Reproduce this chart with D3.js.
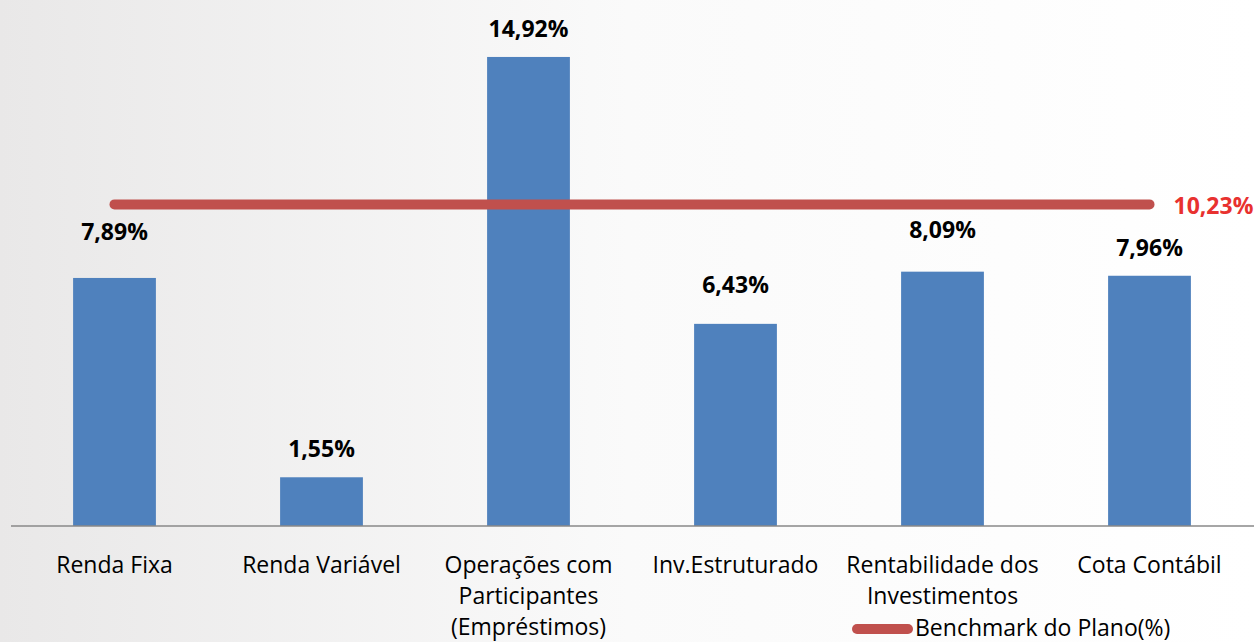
<!DOCTYPE html>
<html>
<head>
<meta charset="utf-8">
<script src="https://cdn.jsdelivr.net/npm/d3@7"></script>
<style>
	html, body { margin: 0; padding: 0; background: #fff; }
	svg { display: block; font-family: "Open Sans", "Noto Sans", sans-serif; }
</style>
</head>
<body>
<div id="chart"></div>
<script>
var width = 1254;
var height = 642;

var categories = [
	"Renda Fixa",
	"Renda Variável",
	"Operações com\nParticipantes\n(Empréstimos)",
	"Inv.Estruturado",
	"Rentabilidade dos\nInvestimentos",
	"Cota Contábil"
];
var returns = [7.89, 1.55, 14.92, 6.43, 8.09, 7.96];
var benchmark = [10.23, 10.23, 10.23, 10.23, 10.23, 10.23];
var benchmarkName = "Benchmark do Plano(%)";

// some labels were dragged up in the original to clear the red line
var labelNudge = { "Renda Fixa": -18, "Inv.Estruturado": -11, "Rentabilidade dos\nInvestimentos": -14 };

var asPercent = function(v) {
	return v.toFixed(2).replace(".", ",") + "%";
};

var svg = d3.select("#chart").append("svg")
	.attr("width", width)
	.attr("height", height);

var defs = svg.append("defs");
var grad = defs.append("linearGradient")
	.attr("id", "bg")
	.attr("x1", "0%").attr("x2", "100%")
	.attr("y1", "0%").attr("y2", "0%");
grad.append("stop").attr("offset", "0%").attr("stop-color", "#e9e8e8");
grad.append("stop").attr("offset", "50%").attr("stop-color", "#fafafa");
grad.append("stop").attr("offset", "100%").attr("stop-color", "#ffffff");

svg.append("rect")
	.attr("width", width)
	.attr("height", height)
	.attr("fill", "url(#bg)");

var x = d3.scaleBand()
	.domain(categories)
	.range([11, 1253])
	.paddingInner(0.6)
	.paddingOuter(0.3);

var y = d3.scaleLinear()
	.domain([0, 16])
	.range([526, 23]);

// bars
svg.selectAll(".bar")
	.data(returns)
	.enter().append("rect")
	.attr("class", "bar")
	.attr("x", function(d, i) { return x(categories[i]); })
	.attr("y", function(d) { return y(d); })
	.attr("width", x.bandwidth())
	.attr("height", function(d) { return y(0) - y(d); })
	.attr("fill", "#4f81bd");

// axis (only the baseline)
var axis = svg.append("g")
	.attr("transform", "translate(0," + y(0) + ")")
	.call(d3.axisBottom(x).tickSize(0).tickSizeOuter(0).tickFormat(""));
axis.select(".domain")
	.attr("stroke", "#888")
	.attr("stroke-width", 1.5)
	.attr("d", "M11,0H1254");

// category labels
var catLabels = svg.selectAll(".cat")
	.data(categories)
	.enter().append("text")
	.attr("class", "cat")
	.attr("text-anchor", "middle")
	.attr("font-size", 23)
	.attr("fill", "#000");
catLabels.each(function(c) {
	var lines = c.split("\n");
	var t = d3.select(this);
	lines.forEach(function(line, k) {
		t.append("tspan")
			.attr("x", x(c) + x.bandwidth() / 2)
			.attr("y", 573 + k * 31)
			.text(line);
	});
});

// value labels
svg.selectAll(".val")
	.data(returns)
	.enter().append("text")
	.attr("class", "val")
	.attr("text-anchor", "middle")
	.attr("font-size", 23)
	.attr("font-weight", "bold")
	.attr("fill", "#000")
	.attr("x", function(d, i) { return x(categories[i]) + x.bandwidth() / 2; })
	.attr("y", function(d, i) { return y(d) - 20 + (labelNudge[categories[i]] || 0); })
	.text(asPercent);

// benchmark line
var line = d3.line()
	.x(function(d, i) { return x(categories[i]) + x.bandwidth() / 2; })
	.y(function(d) { return y(d); });

svg.append("path")
	.datum(benchmark)
	.attr("d", line)
	.attr("fill", "none")
	.attr("stroke", "#c0504d")
	.attr("stroke-width", 10)
	.attr("stroke-linecap", "round");

var last = benchmark.length - 1;
svg.append("text")
	.attr("x", x(categories[last]) + x.bandwidth() / 2 + 24)
	.attr("y", y(benchmark[last]) + 10)
	.attr("font-size", 23)
	.attr("font-weight", "bold")
	.attr("fill", "#e8312f")
	.text(asPercent(benchmark[last]));

// legend
var legend = svg.append("g").attr("transform", "translate(857,629)");
legend.append("line")
	.attr("x1", 0).attr("x2", 51)
	.attr("stroke", "#c0504d")
	.attr("stroke-width", 10)
	.attr("stroke-linecap", "round");
legend.append("text")
	.attr("x", 58)
	.attr("y", 7)
	.attr("font-size", 23)
	.attr("fill", "#000")
	.text(benchmarkName);
</script>
</body>
</html>
